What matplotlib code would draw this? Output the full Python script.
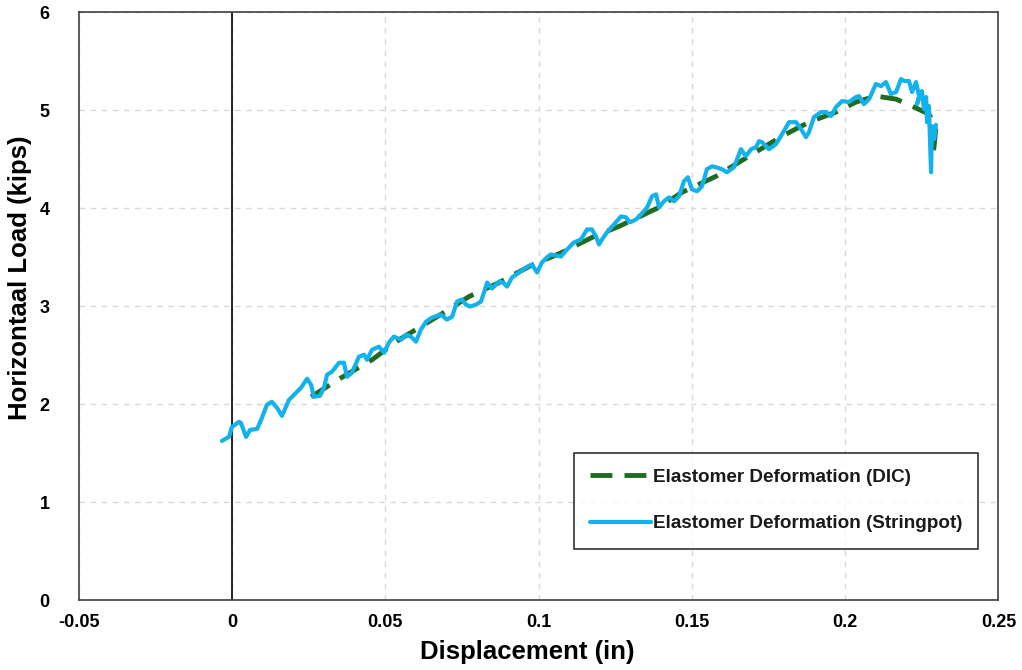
"""Curva carga-desplazamiento del elastómero (DIC vs stringpot)."""

import matplotlib
import matplotlib.pyplot as plt

matplotlib.use("Agg")

plt.rcParams["font.family"] = ["Liberation Sans", "DejaVu Sans"]
plt.rcParams["font.weight"] = "bold"

# Datos
dic_x = [0.0258, 0.0356, 0.0457, 0.0545, 0.0675, 0.0773, 0.0871, 0.0969,
         0.1076, 0.1174, 0.1262, 0.1393, 0.1468, 0.1579, 0.1686, 0.1794,
         0.1882, 0.1970, 0.2035, 0.2100, 0.2166, 0.2218, 0.2273, 0.2296,
         0.2290, 0.2283]
dic_y = [2.076, 2.270, 2.454, 2.658, 2.904, 3.098, 3.241, 3.405,
         3.548, 3.701, 3.814, 4.008, 4.162, 4.325, 4.530, 4.734,
         4.877, 4.980, 5.082, 5.143, 5.112, 5.041, 4.959, 4.836,
         4.632, 4.479]

sp_x = [-0.0033, -0.0010, 0.0000, 0.0023, 0.0029, 0.0046, 0.0059, 0.0082,
        0.0095, 0.0114, 0.0130, 0.0147, 0.0163, 0.0186, 0.0202, 0.0225,
        0.0245, 0.0258, 0.0267, 0.0287, 0.0300, 0.0310, 0.0326, 0.0349,
        0.0365, 0.0375, 0.0391, 0.0414, 0.0431, 0.0440, 0.0457, 0.0479,
        0.0496, 0.0512, 0.0528, 0.0551, 0.0568, 0.0584, 0.0600, 0.0616,
        0.0633, 0.0652, 0.0682, 0.0701, 0.0718, 0.0734, 0.0750, 0.0763,
        0.0776, 0.0796, 0.0812, 0.0825, 0.0832, 0.0848, 0.0871, 0.0884,
        0.0897, 0.0913, 0.0936, 0.0959, 0.0978, 0.0995, 0.1011, 0.1027,
        0.1040, 0.1073, 0.1093, 0.1115, 0.1138, 0.1158, 0.1174, 0.1187,
        0.1197, 0.1207, 0.1223, 0.1246, 0.1269, 0.1285, 0.1298, 0.1318,
        0.1334, 0.1354, 0.1370, 0.1383, 0.1393, 0.1409, 0.1425, 0.1442,
        0.1458, 0.1474, 0.1487, 0.1500, 0.1517, 0.1533, 0.1549, 0.1566,
        0.1579, 0.1598, 0.1614, 0.1637, 0.1660, 0.1676, 0.1693, 0.1709,
        0.1719, 0.1729, 0.1751, 0.1774, 0.1794, 0.1817, 0.1840, 0.1856,
        0.1872, 0.1882, 0.1898, 0.1921, 0.1937, 0.1954, 0.1970, 0.1990,
        0.2012, 0.2035, 0.2045, 0.2061, 0.2078, 0.2100, 0.2117, 0.2133,
        0.2149, 0.2166, 0.2182, 0.2192, 0.2208, 0.2218, 0.2231, 0.2241,
        0.2234, 0.2250, 0.2257, 0.2264, 0.2267, 0.2273, 0.2280, 0.2283,
        0.2290, 0.2296]
sp_y = [1.626, 1.667, 1.769, 1.820, 1.810, 1.667, 1.738, 1.748,
        1.840, 1.994, 2.025, 1.963, 1.881, 2.045, 2.096, 2.168,
        2.260, 2.198, 2.076, 2.086, 2.168, 2.301, 2.331, 2.423,
        2.423, 2.280, 2.321, 2.485, 2.505, 2.454, 2.556, 2.587,
        2.526, 2.630, 2.690, 2.658, 2.710, 2.689, 2.638, 2.761,
        2.843, 2.883, 2.914, 2.863, 2.894, 3.047, 3.068, 3.016,
        2.996, 3.016, 3.047, 3.170, 3.241, 3.180, 3.252, 3.241,
        3.200, 3.292, 3.344, 3.395, 3.425, 3.344, 3.446, 3.497,
        3.528, 3.507, 3.579, 3.650, 3.681, 3.783, 3.783, 3.712,
        3.630, 3.681, 3.753, 3.834, 3.916, 3.906, 3.855, 3.885,
        3.937, 4.008, 4.121, 4.141, 4.008, 4.070, 4.110, 4.070,
        4.121, 4.274, 4.315, 4.192, 4.172, 4.223, 4.397, 4.427,
        4.417, 4.397, 4.366, 4.417, 4.601, 4.530, 4.601, 4.622,
        4.683, 4.673, 4.601, 4.652, 4.755, 4.877, 4.877, 4.806,
        4.724, 4.775, 4.928, 4.980, 4.980, 4.939, 5.031, 5.092,
        5.082, 5.133, 5.143, 5.061, 5.112, 5.266, 5.245, 5.286,
        5.164, 5.184, 5.317, 5.297, 5.297, 5.184, 5.286, 5.143,
        5.061, 5.194, 5.010, 5.133, 4.877, 5.041, 4.366, 4.836,
        4.703, 4.850]

x_ticks = [-0.05, 0, 0.05, 0.1, 0.15, 0.2, 0.25]
x_labels = ["-0.05", "0", "0.05", "0.1", "0.15", "0.2", "0.25"]
y_ticks = [0, 1, 2, 3, 4, 5, 6]

fig = plt.figure(figsize=(10.22, 6.7), dpi=100)
ax = fig.add_axes([0.077, 0.104, 0.900, 0.878])

ax.plot(dic_x, dic_y, color="#1f6b1f", linewidth=3.5, dashes=(4.5, 2.5),
        label="Elastomer Deformation (DIC)", zorder=3)
ax.plot(sp_x, sp_y, color="#13b2ec", linewidth=3, solid_joinstyle="round",
        solid_capstyle="round",
        label="Elastomer Deformation (Stringpot)", zorder=4)

ax.axvline(0, color="black", linewidth=1.2, zorder=2)

ax.set_xlim(-0.05, 0.25)
ax.set_ylim(0, 6)
ax.set_xticks(x_ticks)
ax.set_xticklabels(x_labels)
ax.set_yticks(y_ticks)
ax.tick_params(axis="x", length=0, labelsize=13, pad=10)
ax.tick_params(axis="y", length=0, labelsize=13, pad=21)
for lbl in ax.get_xticklabels() + ax.get_yticklabels():
    lbl.set_fontweight("bold")

ax.grid(color="#d9d9d9", linestyle=(0, (4, 4)), linewidth=1)
ax.set_axisbelow(True)
for sp in ax.spines.values():
    sp.set_color("#404040")
    sp.set_linewidth(1.2)

ax.set_xlabel("Displacement (in)", fontsize=18.5, fontweight="bold")
ax.set_ylabel("Horizontaal Load (kips)", fontsize=18.5, fontweight="bold")
ax.xaxis.set_label_coords(0.4875, -0.068)
ax.yaxis.set_label_coords(-0.051, 0.549)

leg = ax.legend(loc="lower right", bbox_to_anchor=(0.978, 0.088),
                fontsize=13.6, frameon=True, fancybox=False,
                edgecolor="black", labelspacing=1.55, handlelength=3.2,
                handletextpad=0.1, borderpad=0.85, borderaxespad=0)
leg.get_frame().set_linewidth(1.2)
for t in leg.get_texts():
    t.set_fontweight("bold")
    t.set_color("#1a1a1a")

fig.savefig("out.png", dpi=100)
plt.close(fig)
